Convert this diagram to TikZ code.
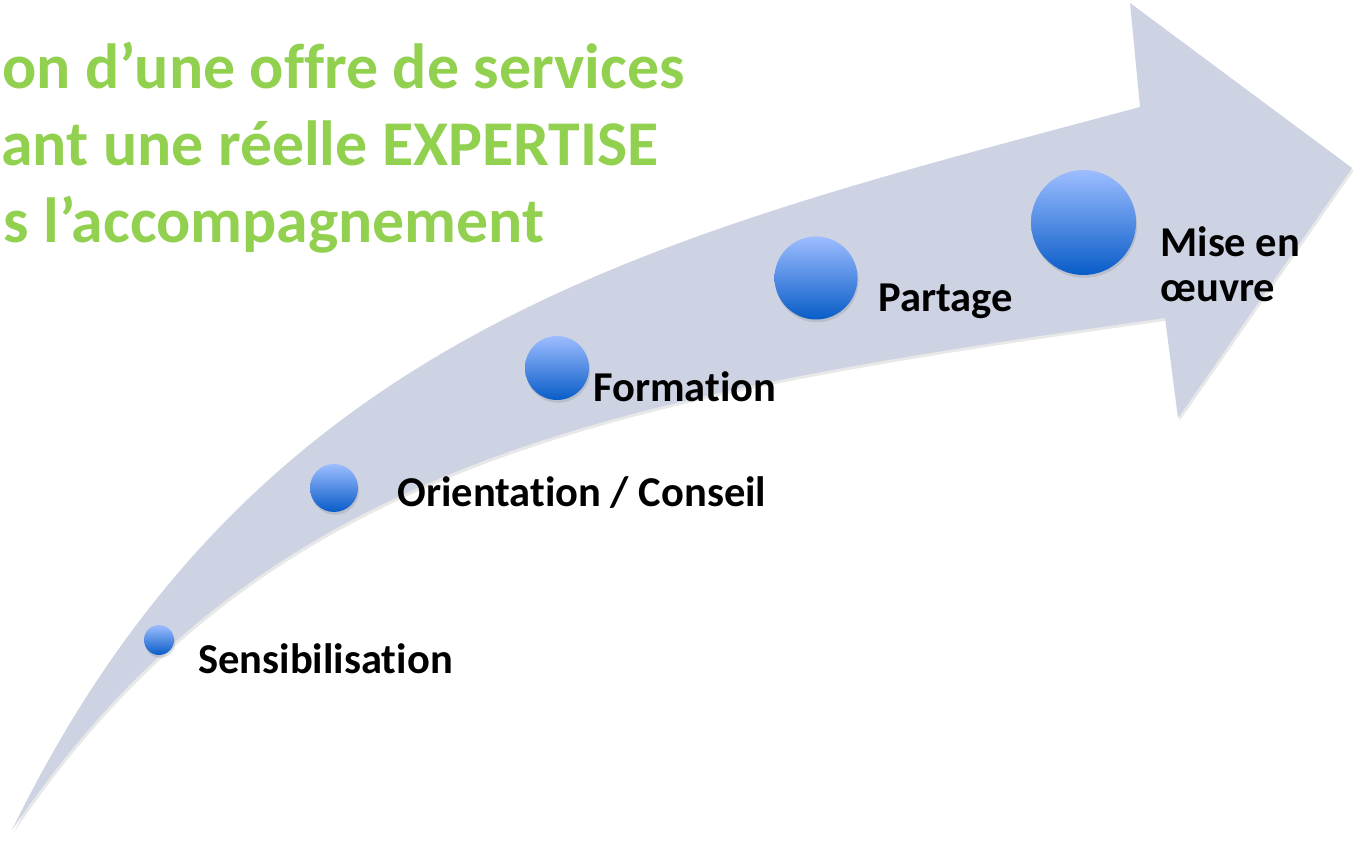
\documentclass[tikz,border=0pt]{standalone}
\usepackage{fontspec}
\setmainfont{Carlito}[Ligatures=NoCommon]
\usepackage{tikz}
\usetikzlibrary{shadows,positioning}
\definecolor{arrowgray}{RGB}{205,211,227}
\definecolor{titlegreen}{RGB}{146,208,80}
\definecolor{balltop}{RGB}{157,189,255}
\definecolor{ballbot}{RGB}{8,92,200}
\tikzset{
  ball/.style={circle,inner sep=0pt,draw=none,top color=balltop,bottom color=ballbot,
    drop shadow={opacity=0.25,shadow xshift=0.6pt,shadow yshift=-1.6pt}},
  steplabel/.style={anchor=base west,inner sep=0pt,
    font=\fontsize{24.2}{27}\selectfont\bfseries},
  titleline/.style={anchor=base east,inner sep=0pt,text=titlegreen,
    font=\fontsize{36.3}{43}\selectfont\bfseries}
}

\begin{document}
\begin{tikzpicture}[line cap=round]

  \useasboundingbox (0,0) rectangle (27.06,16.9);

  % the bent arrow
  \fill [arrowgray,drop shadow={opacity=0.18,shadow xshift=1pt,shadow yshift=-1.5pt}]
    (0.24,0.30) .. controls (5.28,7.77) and (12.41,9.00) .. (23.30,10.54)
    -- (23.56,8.54) -- (27.04,13.54) -- (22.60,16.84) -- (22.80,14.76)
    .. controls (13.14,12.17) and (5.16,10.38) .. cycle;

  % title
  \node [titleline] (title1) at (13.70,15.12) {on d’une offre de services};
  \node [titleline,anchor=base west] (title2) at (0.02,13.58) {ant une réelle EXPERTISE};
  \node [titleline] (title3) at (10.90,12.04) {s l’accompagnement};

  % steps
  \node [ball,minimum size=0.60cm] (sens) at (3.18,4.10) {};
  \node [ball,minimum size=0.96cm] (orient) at (6.68,7.14) {};
  \node [ball,minimum size=1.28cm] (form) at (11.14,9.54) {};
  \node [ball,minimum size=1.66cm] (part) at (16.32,11.34) {};
  \node [ball,minimum size=2.10cm] (mise) at (21.67,12.45) {};

  \node [steplabel] (senslabel) at (3.96,3.42) {Sensibilisation};
  \node [steplabel] (orientlabel) at (7.94,6.76) {Orientation / Conseil};
  \node [steplabel] (formlabel) at (11.86,8.86) {Formation};
  \node [steplabel] (partlabel) at (17.56,10.66) {Partage};
  \node [steplabel] (miselabel) at (23.20,11.76) {Mise en};
  \node [steplabel] (oeuvrelabel) at (23.20,10.86) {œuvre};

\end{tikzpicture}
\end{document}
